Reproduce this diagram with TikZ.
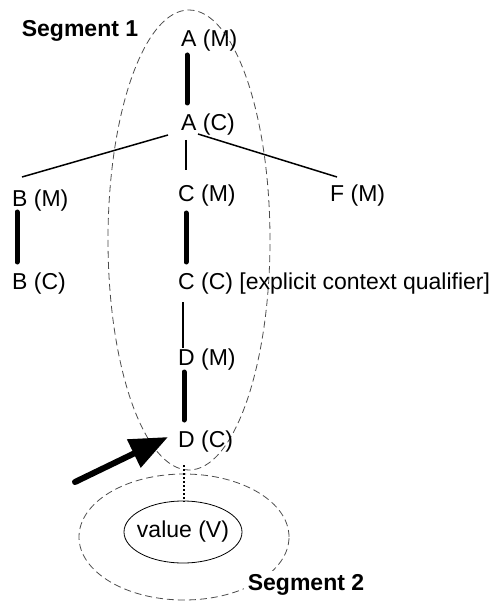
\documentclass[tikz,border=0pt]{standalone}
\usepackage{fontspec}
\setmainfont{Liberation Sans}
\usetikzlibrary{arrows.meta}
\begin{document}
\begin{tikzpicture}[x=1pt,y=-1pt,
  lbl/.style={anchor=base west,inner sep=0pt,font=\fontsize{23}{27}\selectfont},
  seglbl/.style={inner sep=0pt,font=\fontsize{23}{27}\selectfont\bfseries},
  thin line/.style={line width=1.5pt},
  thick line/.style={line width=5pt,line cap=round},
  dotted line/.style={line width=1.6pt,dash pattern=on 2pt off 2pt},
  seg/.style={draw=black!70,line width=0.8pt,dash pattern=on 7pt off 4pt},
  big arrow/.style={line width=6pt,line cap=round,-{Triangle[length=38pt,width=30pt]}}]
\useasboundingbox (0,0) rectangle (495,601);
% segment outlines
\draw[seg] (189,240) ellipse [x radius=81pt, y radius=230pt];
\draw[seg] (184,537) ellipse [x radius=105pt, y radius=63pt];
% nodes
\node[seglbl] (seg1) at (80,31) {Segment 1};
\node[lbl] (am) at (181,47) {A (M)};
\node[lbl] (ac) at (181,131) {A (C)};
\node[lbl] (bm) at (12,207) {B (M)};
\node[lbl] (bc) at (12,289) {B (C)};
\node[lbl] (cm) at (178,202) {C (M)};
\node[lbl] (fm) at (330,202) {F (M)};
\node[lbl] (cc) at (178,289) {C (C) [explicit context qualifier]};
\node[lbl] (dm) at (178,365) {D (M)};
\node[lbl] (dc) at (178,447) {D (C)};
\node[inner sep=0pt,font=\fontsize{23}{27}\selectfont] (val) at (183,532) {value (V)};
\draw[line width=0.8pt] (val.center) ellipse [x radius=59pt, y radius=31pt];
\node[seglbl,fill=white,inner sep=4pt] (seg2) at (306,585) {Segment 2};
% connectors
\draw[thick line] ([xshift=6pt,yshift=-8pt]am.base west) -- ([xshift=6pt,yshift=28pt]ac.base west);
\draw[thin line] ([xshift=-13pt,yshift=-4pt]ac.base west) -- ([xshift=10pt,yshift=30pt]bm.base west);
\draw[thin line] ([xshift=5pt,yshift=-9pt]ac.base west) -- ([xshift=8pt,yshift=32pt]cm.base west);
\draw[thin line] ([xshift=17pt,yshift=-3pt]ac.base west) -- ([xshift=7pt,yshift=25pt]fm.base west);
\draw[thick line] ([xshift=5pt,yshift=-5pt]bm.base west) -- ([xshift=5pt,yshift=27pt]bc.base west);
\draw[thick line] ([xshift=8pt,yshift=-11pt]cm.base west) -- ([xshift=8pt,yshift=27pt]cc.base west);
\draw[thin line] ([xshift=5pt,yshift=-13pt]cc.base west) -- ([xshift=5pt,yshift=17pt]dm.base west);
\draw[thick line] ([xshift=6pt,yshift=-7pt]dm.base west) -- ([xshift=6pt,yshift=27pt]dc.base west);
\draw[dotted line] ([xshift=6pt,yshift=-18pt]dc.base west) -- ([xshift=1pt]val.center |- 0,502);
\coordinate (tail) at (75,482);
\draw[big arrow] (tail) -- ([xshift=-10pt,yshift=4pt]dc.west);
\end{tikzpicture}
\end{document}
